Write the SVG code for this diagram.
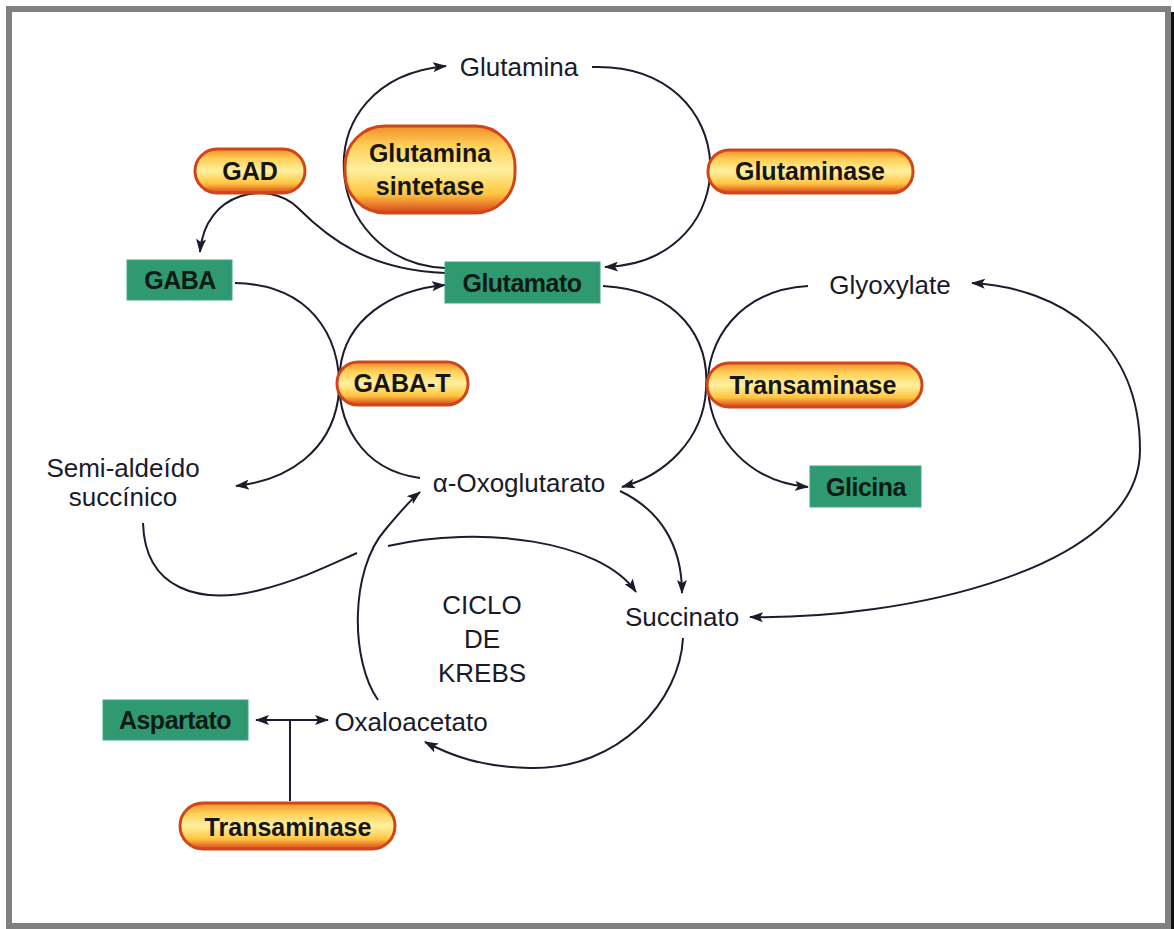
<svg xmlns="http://www.w3.org/2000/svg" width="1174" height="929" viewBox="0 0 1174 929">
<defs>
<linearGradient id="pill" x1="0" y1="0" x2="0" y2="1">
<stop offset="0" stop-color="#f08c2a"/>
<stop offset="0.22" stop-color="#ffcf55"/>
<stop offset="0.5" stop-color="#fff0a0"/>
<stop offset="0.78" stop-color="#ffc640"/>
<stop offset="1" stop-color="#d8421a"/>
</linearGradient>
<marker id="arr" viewBox="0 0 14 10" refX="13" refY="5" markerWidth="14" markerHeight="10" markerUnits="userSpaceOnUse" orient="auto-start-reverse">
<path d="M0,0 L14,5 L0,10 L3,5 Z" fill="#1c1c2e"/>
</marker>
</defs>
<style>
.pill{fill:url(#pill);stroke:#d2441a;stroke-width:3}
.green{fill:#2f9a72;stroke:#3fa884;stroke-width:1}
.pt{font-family:"Liberation Sans",Arial,sans-serif;font-weight:bold;font-size:25px;fill:#161616;text-anchor:middle}
.gt{font-family:"Liberation Sans",Arial,sans-serif;font-weight:bold;font-size:25px;fill:#0e1a14;text-anchor:middle;letter-spacing:-0.5px}
.lt{font-family:"Liberation Sans",Arial,sans-serif;font-size:26px;fill:#1a1a2a;text-anchor:middle}
.c{fill:none;stroke:#1c1c2e;stroke-width:2}
.ca{fill:none;stroke:#1c1c2e;stroke-width:2;marker-end:url(#arr)}
.cb{fill:none;stroke:#1c1c2e;stroke-width:2;marker-end:url(#arr);marker-start:url(#arr)}
</style>
<rect x="0" y="0" width="1174" height="929" fill="#ffffff"/>
<rect x="1171" y="12" width="3" height="917" fill="#111"/>
<rect x="9" y="9" width="1159" height="917" fill="none" stroke="#808080" stroke-width="6"/>

<g id="connectors">
<path class="ca" d="M445 268 C 320 262, 300 80, 446 66"/>
<path class="ca" d="M592 67 C 745 62, 750 262, 605 267"/>
<path class="ca" d="M445 273 C 370 270, 330 240, 298 208 C 270 180, 205 190, 200 252"/>
<path class="ca" d="M235 283 C 320 285, 345 350, 338 400 C 330 450, 290 480, 236 486"/>
<path class="ca" d="M420 478 C 360 470, 335 420, 340 370 C 345 320, 390 290, 445 285"/>
<path class="ca" d="M603 286 C 680 290, 710 340, 706 390 C 703 440, 665 475, 622 487"/>
<path class="ca" d="M808 286 C 740 290, 705 340, 708 390 C 712 440, 750 482, 808 487"/>
<path class="cb" d="M750 617 C 900 620, 1140 570, 1140 450 C 1140 340, 1060 288, 972 283"/>
<path class="ca" d="M620 491 C 660 510, 682 545, 682 593"/>
<path class="c" d="M143 523 C 145 590, 200 605, 260 590 C 300 580, 330 565, 357 553"/>
<path class="ca" d="M388 546 C 480 525, 600 540, 636 592"/>
<path class="ca" d="M683 638 C 680 700, 620 770, 530 768 C 480 767, 450 755, 425 742"/>
<path class="ca" d="M378 700 C 350 660, 350 570, 385 530 C 400 512, 410 500, 420 492"/>
<path class="cb" d="M256 720 L 328 720"/>
<path class="c" d="M290 720 L 290 801"/>
</g>

<g id="glutamina"><text class="lt" x="519" y="76">Glutamina</text></g>
<g id="glutamina-sintetase">
<rect class="pill" x="345" y="126" width="170" height="87" rx="40"/>
<text class="pt" x="430" y="162">Glutamina</text>
<text class="pt" x="430" y="195">sintetase</text>
</g>
<g id="gad">
<rect class="pill" x="195" y="149" width="110" height="44" rx="22"/>
<text class="pt" x="250" y="180">GAD</text>
</g>
<g id="glutaminase">
<rect class="pill" x="708" y="150" width="205" height="43" rx="21"/>
<text class="pt" x="810" y="180">Glutaminase</text>
</g>
<g id="gaba">
<rect class="green" x="127" y="260" width="105" height="40"/>
<text class="gt" x="180" y="289">GABA</text>
</g>
<g id="glutamato">
<rect class="green" x="445" y="262" width="155" height="41"/>
<text class="gt" x="522" y="292">Glutamato</text>
</g>
<g id="glyoxylate"><text class="lt" x="890" y="294">Glyoxylate</text></g>
<g id="gaba-t">
<rect class="pill" x="337" y="362" width="131" height="43" rx="21"/>
<text class="pt" x="402" y="392">GABA-T</text>
</g>
<g id="transaminase-1">
<rect class="pill" x="707" y="363" width="215" height="44" rx="22"/>
<text class="pt" x="813" y="394">Transaminase</text>
</g>
<g id="semialdeido">
<text class="lt" x="123" y="477">Semi-aldeído</text>
<text class="lt" x="123" y="506">succínico</text>
</g>
<g id="oxoglutarato"><text class="lt" x="519" y="492">α-Oxoglutarato</text></g>
<g id="glicina">
<rect class="green" x="810" y="466" width="111" height="41"/>
<text class="gt" x="866" y="496">Glicina</text>
</g>
<g id="krebs">
<text class="lt" x="482" y="614">CICLO</text>
<text class="lt" x="482" y="648">DE</text>
<text class="lt" x="482" y="682">KREBS</text>
</g>
<g id="succinato"><text class="lt" x="682" y="626">Succinato</text></g>
<g id="aspartato">
<rect class="green" x="103" y="700" width="145" height="40"/>
<text class="gt" x="175" y="729">Aspartato</text>
</g>
<g id="oxaloacetato"><text class="lt" x="411" y="731">Oxaloacetato</text></g>
<g id="transaminase-2">
<rect class="pill" x="180" y="803" width="215" height="46" rx="23"/>
<text class="pt" x="288" y="836">Transaminase</text>
</g>
</svg>
